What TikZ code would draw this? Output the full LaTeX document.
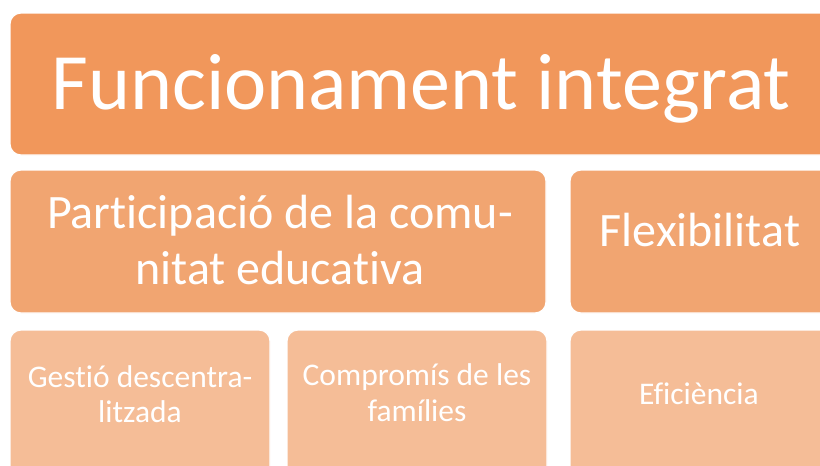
\documentclass[tikz,border=0pt]{standalone}
\usepackage{fontspec}
\setmainfont[RawFeature=-liga]{Carlito}
\definecolor{cA}{RGB}{241,151,91}
\definecolor{cB}{RGB}{241,165,113}
\definecolor{cC}{RGB}{245,189,151}
\begin{document}
\begin{tikzpicture}[x=1pt,y=-1pt,
  box/.style={rounded corners=11pt,draw=white,line width=1.2pt},
  lbl/.style={text=white,inner sep=0pt,anchor=base},
  big/.style={lbl,font=\fontsize{80}{96}\selectfont},
  mid/.style={lbl,font=\fontsize{48}{58}\selectfont},
  sml/.style={lbl,font=\fontsize{31.5}{38}\selectfont}]
\useasboundingbox (0,0) rectangle (820,466);
\clip (0,0) rectangle (820,466);
\fill[white] (0,0) rectangle (820,466);
\filldraw[box,fill=cA] (10,13) rectangle (832,155);
\filldraw[box,fill=cB] (10,170) rectangle (546,313);
\filldraw[box,fill=cB] (570,170) rectangle (832,313);
\filldraw[box,fill=cC] (10,330) rectangle (270,490);
\filldraw[box,fill=cC] (287,330) rectangle (547,490);
\filldraw[box,fill=cC] (570,330) rectangle (832,490);
\node[big] (t) at (421,109) {Funcionament integrat};
\node[mid] (p1) at (280,228) {Participació de la comu-};
\node[mid] (p2) at (280,284) {nitat educativa};
\node[mid] (f) at (700,246) {Flexibilitat};
\node[sml] (g1) at (140,387) {Gestió descentra-};
\node[sml] (g2) at (140,422) {litzada};
\node[sml] (c1) at (417,385) {Compromís de les};
\node[sml] (c2) at (417,421) {famílies};
\node[sml] (e) at (699,404) {Eficiència};
\end{tikzpicture}
\end{document}
